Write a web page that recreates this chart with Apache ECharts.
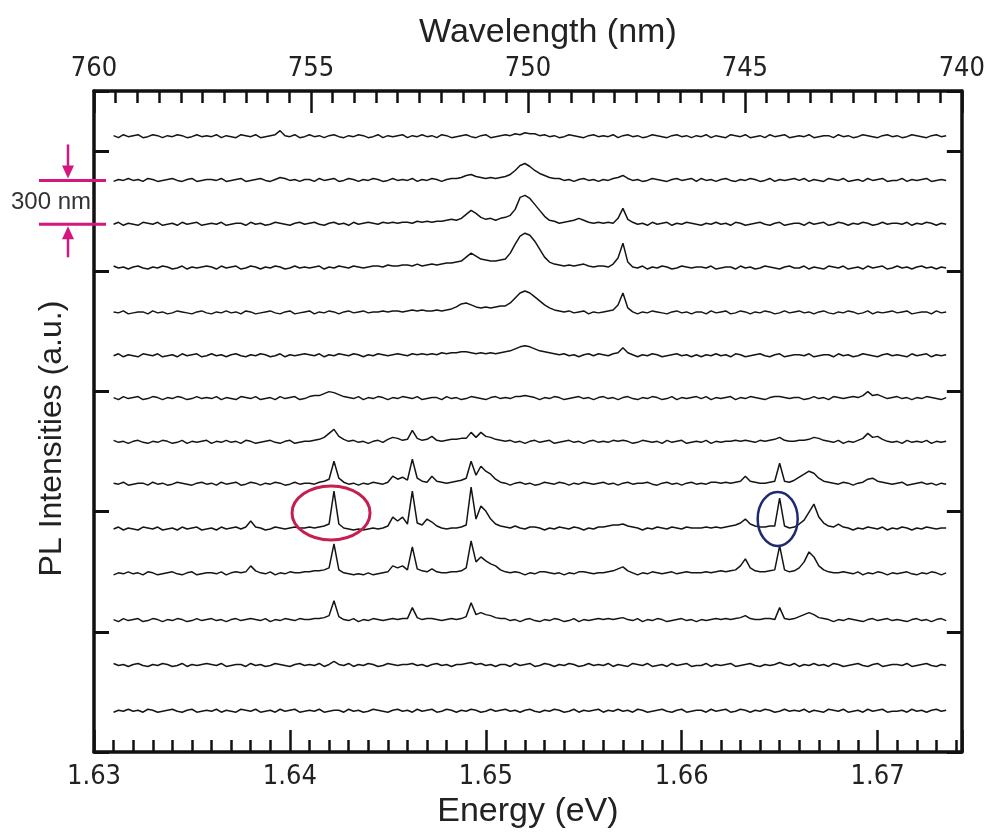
<!DOCTYPE html>
<html>
<head>
<meta charset="utf-8">
<title>PL spectra</title>
<script src="https://cdn.jsdelivr.net/npm/echarts@6/dist/echarts.min.js"></script>
<style>
  html, body { margin: 0; padding: 0; background: #fff; }
  #PLSpectra { width: 988px; height: 834px; }
</style>
</head>
<body>
<div id="PLSpectra"></div>
<script>
// energy grid of every spectrum (eV)
const energyStart = 1.631;
const energyStep = 0.00025;

// tick labels
const energyLabels = [1.63, 1.64, 1.65, 1.66, 1.67];
const wavelengthLabels = [760, 755, 750, 745, 740];

// vertical offset of each spectrum, top to bottom (a.u.)
const offsets = [5.12, 4.756, 4.391, 4.027, 3.654, 3.297, 2.941, 2.577, 2.229, 1.856, 1.483, 1.094, 0.721, 0.340];
const countsPerUnit = 120.7;

// PL counts, one value per grid step
const spec1 = [
  1, -1, 2, 0, 1, 2, -1, 0, 2, 1, -1, 1, 0, 2, 1, -1, 0, 2, 0, 1,
  0, 2, -1, 1, 0, -1, 2, 1, 0, 2, -1, 0, 1, 2, 6, 1, 0, 2, -1, 0,
  2, 0, 1, -1, 1, 2, 0, -1, 1, 0, 2, 1, -1, 0, 2, -1, 1, 0, 1, 2,
  -1, 1, 0, 2, 0, 1, -1, 2, 1, -1, 0, 1, 2, 0, -1, 1, 2, -1, 0, 1,
  2, 1, 3, 2, 4, 3, 3, 1, 2, 0, 1, -1, 0, 2, 1, 0, -1, 1, 2, 0,
  1, 0, 2, -1, 1, 2, 0, 1, -1, 0, 2, 1, 0, -1, 1, 2, 0, 1, -1, 1,
  0, 2, -1, 1, 0, -1, 2, 1, 0, 2, -1, 0, 1, -1, 2, 0, 1, 2, -1, 0,
  1, 0, 2, -1, 0, 1, 1, -1, 2, 0, 1, -1, 0, 2, 1, 0, -1, 1, 2, 0,
  1, -1, 0, 2, 1, 0, -1, 1, 2, 0, 1,
];
const spec2 = [
  -1, 1, 0, 2, 0, 1, -1, 2, 1, -1, 0, 1, 2, 0, -1, 1, 2, -1, 0, 1,
  1, 0, 2, -1, 0, 1, 2, -1, 0, 1, 2, 0, -1, 1, 3, 2, 0, 1, -1, 1,
  1, -1, 2, 0, 1, 2, -1, 0, 2, 1, -1, 1, 0, 2, 1, -1, 0, 2, 0, 1,
  0, 2, -1, 1, 0, 2, 1, -1, 1, 2, 2, 3, 5, 6, 4, 3, 2, 3, 2, 3,
  4, 6, 10, 15, 17, 14, 10, 7, 5, 3, 2, 2, 0, 1, -1, 1, 2, 0, 1, -1,
  1, 0, 2, 3, 5, 2, 0, 1, -1, 0, 2, 1, 0, -1, 1, 2, 0, 1, 2, -1,
  2, 0, 1, -1, 1, 2, 0, -1, 1, 0, 2, 1, -1, 0, 2, -1, 1, 0, 1, 2,
  0, 2, -1, 1, 0, -1, 2, 1, 0, 2, -1, 0, 1, -1, 2, 0, 1, 2, -1, 0,
  0, 2, -1, 1, 0, 1, 2, -1, 0, 1, 0,
];
const spec3 = [
  0, 2, -1, 1, 0, -1, 2, 1, 0, 2, -1, 0, 1, -1, 2, 0, 1, 2, -1, 0,
  1, 0, 2, -1, 0, 1, 1, -1, 2, 0, 1, -1, 0, 2, 1, 0, -1, 1, 2, 0,
  1, 2, 0, -1, 1, 2, 0, 1, -1, 2, 0, 1, 2, 1, 0, 2, 1, 2, 1, 2,
  2, 1, 3, 2, 3, 2, 3, 3, 4, 5, 4, 6, 10, 14, 11, 7, 5, 6, 4, 6,
  7, 9, 15, 27, 29, 26, 20, 14, 8, 4, 3, 1, 2, 3, 4, 6, 4, 2, 1, 2,
  1, 2, 1, 6, 16, 5, 2, 0, 1, -1, 2, 0, 1, 2, -1, 1, 0, 2, 1, 0,
  -1, 1, 0, 2, 0, 1, -1, 2, 1, -1, 0, 1, 2, 0, -1, 1, 2, -1, 0, 1,
  1, -1, 2, 0, 1, 2, -1, 0, 2, 1, -1, 1, 0, 2, 1, -1, 0, 2, 0, 1,
  1, 0, 2, -1, 1, 0, 2, 1, -1, 1, 0,
];
const spec4 = [
  2, 0, 1, -1, 1, 2, 0, -1, 1, 0, 2, 1, -1, 0, 2, -1, 1, 0, 1, 2,
  1, -1, 2, 0, 1, 2, -1, 0, 2, 1, -1, 1, 0, 2, 1, -1, 0, 2, 0, 1,
  0, 1, 2, -1, 1, 0, 2, 1, 0, 2, 1, 0, 1, 2, 2, 1, 3, 2, 2, 3,
  3, 2, 4, 2, 3, 4, 3, 4, 5, 5, 6, 7, 11, 15, 12, 9, 8, 7, 7, 8,
  9, 15, 24, 32, 35, 33, 27, 19, 11, 6, 4, 3, 2, 3, 2, 3, 4, 2, 1, 2,
  2, 1, 4, 10, 25, 6, 1, 0, 2, -1, 1, 0, 2, 1, -1, 0, 2, 1, 0, 1,
  1, 0, 2, -1, 0, 1, 1, -1, 2, 0, 1, -1, 0, 2, 1, 0, -1, 1, 2, 0,
  0, 2, -1, 1, 0, -1, 2, 1, 0, 2, -1, 0, 1, -1, 2, 0, 1, 2, -1, 0,
  2, 0, 1, -1, 1, 2, 0, 1, -1, 1, 0,
];
const spec5 = [
  1, 0, 2, -1, 0, 1, 1, -1, 2, 0, 1, -1, 0, 2, 1, 0, -1, 1, 2, 0,
  -1, 1, 0, 2, 0, 1, -1, 2, 1, -1, 0, 1, 2, 0, -1, 1, 2, -1, 0, 1,
  2, -1, 1, 0, 2, 1, -1, 1, 2, 0, 1, 2, 0, 1, 1, 2, 1, 2, 2, 1,
  2, 3, 2, 3, 2, 2, 3, 2, 3, 4, 6, 9, 10, 8, 6, 5, 6, 5, 6, 7,
  7, 10, 15, 20, 22, 20, 16, 12, 8, 5, 3, 2, 1, 2, 0, 1, 2, -1, 1, 0,
  1, 2, 3, 8, 20, 5, 1, -1, 1, 0, 2, 1, 0, -1, 1, 2, 0, 1, -1, 1,
  1, -1, 2, 0, 1, 2, -1, 0, 2, 1, -1, 1, 0, 2, 1, -1, 0, 2, 0, 1,
  2, 0, 1, -1, 1, 2, 0, -1, 1, 0, 2, 1, -1, 0, 2, -1, 1, 0, 1, 2,
  0, 1, 2, -1, 0, 1, 1, -1, 2, 0, 1,
];
const spec6 = [
  0, 2, -1, 1, 0, -1, 2, 1, 0, 2, -1, 0, 1, -1, 2, 0, 1, 2, -1, 0,
  2, 0, 1, -1, 1, 2, 0, -1, 1, 0, 2, 1, -1, 0, 2, -1, 1, 0, 1, 2,
  1, 0, 2, -1, 1, 0, 2, 1, 0, 2, 1, -1, 1, 0, 2, 1, 0, 1, 2, 1,
  0, 2, 1, 2, 1, 2, 1, 3, 2, 3, 3, 4, 4, 3, 2, 3, 2, 3, 2, 3,
  4, 5, 7, 9, 10, 9, 7, 5, 4, 3, 2, 1, 2, 0, 1, -1, 1, 2, 0, 2,
  1, 0, 2, 3, 8, 3, 1, -1, 1, 0, 2, 1, -1, 0, 1, 2, 0, 1, -1, 1,
  -1, 1, 0, 2, 0, 1, -1, 2, 1, -1, 0, 1, 2, 0, -1, 1, 2, -1, 0, 1,
  1, 0, 2, -1, 0, 1, 1, -1, 2, 0, 1, -1, 0, 2, 1, 0, -1, 1, 2, 0,
  1, 0, -1, 2, 0, 1, 2, -1, 1, 0, 1,
];
const spec7 = [
  1, -1, 2, 0, 1, 2, -1, 0, 2, 1, -1, 1, 0, 2, 1, -1, 0, 2, 0, 1,
  0, 2, -1, 1, 0, -1, 2, 1, 0, 2, -1, 0, 1, -1, 2, 0, 1, 2, -1, 0,
  2, 3, 3, 5, 7, 6, 4, 2, 1, 0, 2, -1, 1, 0, 2, 1, -1, 1, 0, 2,
  1, 0, 2, -1, 0, 1, 1, -1, 2, 0, 1, -1, 0, 2, 1, 0, -1, 1, 2, 0,
  1, 0, 2, 2, 3, 2, 1, -1, 1, 0, 2, 1, -1, 0, 1, 2, 0, 1, -1, 1,
  2, 0, 1, -1, 1, 2, 0, -1, 1, 0, 2, 1, -1, 0, 2, -1, 1, 0, 1, 2,
  0, 2, -1, 1, 0, 1, 2, -1, 1, 0, 2, 1, 0, -1, 1, 2, 2, 1, 0, 1,
  1, -1, 0, 2, 0, 1, -1, 2, 1, 0, 1, 2, 1, 3, 7, 3, 4, 2, 0, 1,
  2, 0, 1, -1, 1, 0, 2, 1, 0, -1, 1,
];
const spec8 = [
  2, 0, 1, -1, 1, 2, 0, -1, 1, 0, 2, 1, -1, 0, 2, -1, 1, 0, 1, 2,
  -1, 1, 0, 2, 0, 1, -1, 2, 1, -1, 0, 1, 2, 0, -1, 1, 2, -1, 0, 1,
  1, 2, 3, 5, 9, 13, 6, 3, 1, 2, 0, 1, -1, 1, 2, 0, 3, 5, 4, 2,
  3, 12, 4, 2, 3, 6, 2, 1, 2, 3, 3, 4, 4, 10, 5, 10, 6, 5, 3, 2,
  1, 2, 0, 1, -1, 1, 2, 0, 1, 2, -1, 0, 1, 2, 0, 1, -1, 1, 2, 0,
  1, 0, 2, 1, 2, 1, -1, 0, 2, 1, 0, 1, -1, 2, 0, 1, 2, -1, 0, 1,
  0, 2, -1, 1, 0, 1, 1, 2, 1, 2, 1, 0, 2, 1, 2, 3, 5, 2, 1, 1,
  2, 2, 3, 5, 4, 2, 1, 0, 2, -1, 1, 0, 2, 4, 9, 5, 6, 3, 1, 0,
  1, -1, 2, 0, 1, 0, 2, -1, 1, 0, 1,
];
const spec9 = [
  1, 0, 2, -1, 0, 1, 1, -1, 2, 0, 1, -1, 0, 2, 1, 0, -1, 1, 2, 0,
  1, -1, 2, 0, 1, 2, -1, 0, 2, 1, -1, 1, 0, 2, 1, -1, 0, 2, 0, 1,
  1, 0, 2, 3, 5, 23, 6, 2, 0, 1, -1, 1, 0, 2, 1, 0, 2, 8, 5, 7,
  4, 25, 6, 3, 2, 8, 3, 2, 1, 2, 3, 4, 6, 23, 9, 18, 13, 10, 5, 2,
  1, -1, 1, 2, 0, 1, -1, 0, 2, 1, 0, 2, 1, -1, 1, 0, 2, 1, 0, 1,
  2, 0, 1, -1, 1, 2, 0, 1, 1, 2, 0, -1, 1, 2, 0, 1, -1, 1, 2, 0,
  1, 0, 2, 2, 1, 2, 1, 2, 3, 8, 3, 2, 1, 1, 2, 3, 21, 3, 2, 4,
  7, 10, 13, 11, 6, 3, 2, 1, 0, 2, 1, -1, 1, 2, 5, 6, 3, 2, 1, 0,
  1, 2, -1, 0, 1, 2, 0, 1, -1, 1, 0,
];
const spec10 = [
  0, 2, -1, 1, 0, -1, 2, 1, 0, 2, -1, 0, 1, -1, 2, 0, 1, 2, -1, 0,
  1, -1, 2, 0, 1, 2, 0, 2, 8, 2, 1, -1, 0, 2, 1, 0, 1, 2, 1, 1,
  2, 1, 2, 3, 5, 38, 5, 1, 0, -1, 0, -1, 0, 1, 0, 1, 3, 12, 8, 12,
  5, 38, 6, 4, 10, 7, 3, 1, 0, 1, 1, 2, 4, 42, 10, 23, 18, 10, 5, 3,
  2, 1, 3, 1, 0, 2, 2, 1, -1, 1, 0, 2, 1, 0, 2, 1, -1, 1, 0, 2,
  2, 3, 4, 4, 5, 3, 2, 1, -1, 1, 0, 2, 1, 0, 2, 1, 0, 2, 1, 1,
  1, 2, 1, 2, 1, 2, 3, 4, 6, 10, 5, 3, 2, 2, 3, 3, 31, 3, 1, 2,
  5, 9, 17, 25, 12, 6, 3, 2, 5, 2, 1, -1, 1, 0, 2, 1, 0, 2, -1, 1,
  0, 2, 1, -1, 1, 0, 2, 1, 0, 1, 1,
];
const spec11 = [
  -1, 1, 0, 2, 0, 1, -1, 2, 1, -1, 0, 1, 2, 0, -1, 1, 2, -1, 0, 1,
  1, 0, 2, -1, 1, 2, 1, 2, 8, 3, 1, 0, 2, -1, 1, 0, 2, 1, 1, 2,
  2, 3, 3, 4, 6, 30, 4, 1, 0, -1, 0, -1, 1, -1, 0, 1, 2, 8, 6, 8,
  4, 27, 5, 3, 2, 5, 2, 1, 1, 2, 2, 3, 6, 33, 12, 17, 13, 10, 8, 4,
  2, 1, 2, 1, -1, 1, 0, 2, 2, 1, 0, 1, -1, 1, 0, 2, 2, 1, 0, 1,
  1, 2, 3, 5, 7, 3, 1, -1, 1, 0, 2, 1, 0, 1, 2, 0, 1, 2, 1, 1,
  1, 2, 1, 2, 3, 2, 3, 4, 8, 15, 6, 3, 2, 2, 3, 4, 28, 4, 2, 3,
  6, 12, 22, 17, 8, 4, 2, 1, 1, 2, 1, 0, 2, -1, 1, 0, 2, 1, -1, 1,
  0, 1, 2, 0, -1, 1, 0, 2, 1, -1, 1,
];
const spec12 = [
  1, -1, 2, 0, 1, 2, -1, 0, 2, 1, -1, 1, 0, 2, 1, -1, 0, 2, 0, 1,
  2, 0, 1, -1, 1, 2, 0, 1, 2, 1, 0, 2, -1, 1, 0, 2, 1, 0, 2, 1,
  1, 2, 2, 3, 5, 20, 4, 1, 0, 2, -1, 1, 0, 2, 1, 0, 1, 2, 1, 2,
  2, 13, 3, 1, 2, 2, 1, 0, 1, 2, 1, 2, 4, 18, 6, 8, 6, 5, 3, 2,
  2, 0, 1, -1, 1, 2, 0, -1, 1, 0, 2, 1, -1, 0, 2, -1, 1, 0, 1, 2,
  1, 2, 1, 2, 3, 1, 0, 2, -1, 1, 0, 2, 1, -1, 0, 1, 2, 0, 1, -1,
  1, 0, 1, 2, 1, 2, 1, 2, 3, 5, 2, 1, 1, 2, 2, 1, 13, 2, 1, 2,
  4, 6, 8, 6, 3, 2, 1, -1, 1, 0, 2, 1, 0, -1, 1, 2, 0, 1, 2, 0,
  1, 0, -1, 1, 2, 0, 1, -1, 1, 2, 0,
];
const spec13 = [
  2, 0, 1, -1, 1, 2, 0, -1, 1, 0, 2, 1, -1, 0, 2, -1, 1, 0, 1, 2,
  1, 0, 2, -1, 0, 1, 1, -1, 2, 0, 1, -1, 0, 2, 1, 0, -1, 1, 2, 0,
  1, 0, 2, -1, 1, 4, 1, 0, 2, -1, 1, 0, 2, 1, -1, 0, 2, 1, 0, 1,
  1, 2, 0, 1, -1, 1, 2, 0, 1, -1, 1, 1, 2, 3, 1, 2, 0, 1, -1, 1,
  1, -1, 2, 0, 1, 2, -1, 0, 2, 1, -1, 1, 0, 2, 1, -1, 0, 2, 0, 1,
  0, 2, -1, 1, 0, -1, 2, 1, 0, 2, -1, 0, 1, -1, 2, 0, 1, 2, -1, 0,
  0, 2, -1, 1, 0, 1, 2, -1, 0, 1, 2, 0, -1, 1, 0, 1, 3, 1, 0, 2,
  -1, 1, 0, 2, 0, 1, -1, 2, 1, -1, 0, 1, 2, 0, -1, 1, 2, -1, 0, 1,
  1, 0, 2, -1, 0, 1, 2, 0, -1, 1, 0,
];
const spec14 = [
  -1, 1, 0, 2, 0, 1, -1, 2, 1, -1, 0, 1, 2, 0, -1, 1, 2, -1, 0, 1,
  0, 2, -1, 1, 0, -1, 2, 1, 0, 2, -1, 0, 1, -1, 2, 0, 1, 2, -1, 0,
  1, 0, 2, -1, 0, 1, 1, -1, 2, 0, 1, -1, 0, 2, 1, 0, -1, 1, 2, 0,
  1, -1, 2, 0, 1, 2, -1, 0, 2, 1, -1, 1, 0, 2, 1, -1, 0, 2, 0, 1,
  2, 0, 1, -1, 1, 2, 0, -1, 1, 0, 2, 1, -1, 0, 2, -1, 1, 0, 1, 2,
  -1, 1, 0, 2, 0, 1, -1, 2, 1, -1, 0, 1, 2, 0, -1, 1, 2, -1, 0, 1,
  1, -1, 2, 0, 1, 2, -1, 0, 2, 1, -1, 1, 0, 2, 1, -1, 0, 2, 0, 1,
  0, 2, -1, 1, 0, -1, 2, 1, 0, 2, -1, 0, 1, -1, 2, 0, 1, 2, -1, 0,
  0, 1, -1, 2, 0, 1, -1, 1, 2, 0, 1,
];
const spectra = [spec1, spec2, spec3, spec4, spec5, spec6, spec7, spec8, spec9, spec10, spec11, spec12, spec13, spec14];

const tickFont = "'Liberation Sans Narrow', 'Arial Narrow', 'DejaVu Sans Condensed', sans-serif";
const nameFont = "'Liberation Sans', Arial, sans-serif";
const frameColor = '#111';

const myChart = echarts.init(document.getElementById('PLSpectra'));

const isLabel = (list, v) => list.some((t) => Math.abs(t - v) < 1e-6);

const series = spectra.map((spec, n) => ({
  type: 'line',
  xAxisIndex: 0,
  yAxisIndex: 0,
  symbol: 'none',
  silent: true,
  lineStyle: { color: '#141414', width: 1.5 },
  data: spec.map((v, i) => [energyStart + i * energyStep, offsets[n] + v / countsPerUnit]),
}));

const option = {
  animation: false,
  backgroundColor: '#fff',
  grid: { left: 94, right: 25, top: 91, bottom: 79 },
  xAxis: [
    {
      // energy, minor steps of 1 meV
      type: 'value',
      position: 'bottom',
      min: 1.63,
      max: 1.6743,
      interval: 0.001,
      axisLine: { show: true, onZero: false, lineStyle: { color: frameColor, width: 3.5 } },
      axisTick: { show: true, inside: true, length: 12, lineStyle: { color: frameColor, width: 2.5 } },
      axisLabel: {
        margin: 11,
        color: '#222',
        fontSize: 27,
        fontFamily: tickFont,
        formatter: (v) => (isLabel(energyLabels, v) ? v.toFixed(2) : ''),
      },
      splitLine: { show: false },
      name: 'Energy (eV)',
      nameLocation: 'middle',
      nameGap: 35,
      nameTextStyle: { color: '#222', fontSize: 34, fontFamily: nameFont },
    },
    {
      // energy, major ticks
      type: 'value',
      position: 'bottom',
      min: 1.63,
      max: 1.6743,
      interval: 0.01,
      axisLine: { show: false, onZero: false },
      axisTick: { show: true, inside: true, length: 22, lineStyle: { color: frameColor, width: 2.5 } },
      axisLabel: { show: false },
      splitLine: { show: false },
    },
    {
      type: 'value',
      position: 'top',
      inverse: true,
      min: 740,
      max: 760,
      interval: 5,
      axisLine: { show: true, onZero: false, lineStyle: { color: frameColor, width: 3.5 } },
      axisTick: { show: true, inside: true, length: 22, lineStyle: { color: frameColor, width: 2.5 } },
      minorTick: { show: true, splitNumber: 10, length: 12, lineStyle: { color: frameColor, width: 2.5 } },
      axisLabel: {
        margin: 9,
        color: '#222',
        fontSize: 27,
        fontFamily: tickFont,
        formatter: (v) => (isLabel(wavelengthLabels, v) ? String(v) : ''),
      },
      splitLine: { show: false },
      name: 'Wavelength (nm)',
      nameLocation: 'middle',
      nameGap: 38,
      nameTextStyle: { color: '#222', fontSize: 34, fontFamily: nameFont, padding: [0, 0, 0, 40] },
    },
  ],
  yAxis: [
    {
      type: 'value',
      position: 'left',
      min: 0,
      max: 5.5,
      interval: 1,
      axisLine: { show: true, onZero: false, lineStyle: { color: frameColor, width: 3.5 } },
      axisTick: { show: true, inside: true, length: 15, lineStyle: { color: frameColor, width: 3 } },
      axisLabel: { show: false },
      splitLine: { show: false },
      name: 'PL Intensities (a.u.)',
      nameLocation: 'middle',
      nameGap: 26,
      nameTextStyle: { color: '#222', fontSize: 32, fontFamily: nameFont, padding: [0, 34, 0, 0] },
    },
    {
      type: 'value',
      position: 'right',
      min: 0,
      max: 5.5,
      interval: 1,
      axisLine: { show: true, onZero: false, lineStyle: { color: frameColor, width: 3.5 } },
      axisTick: { show: true, inside: true, length: 15, lineStyle: { color: frameColor, width: 3 } },
      axisLabel: { show: false },
      splitLine: { show: false },
    },
  ],
  series: series,
};
myChart.setOption(option);

// circled peaks and the 300 nm scale bar
const toPx = (e, y) => myChart.convertToPixel({ xAxisIndex: 0, yAxisIndex: 0 }, [e, y]);
const redC = toPx(1.6421, 1.99);
const blueC = toPx(1.6649, 1.94);
const barTop = toPx(1.63, offsets[1])[1];
const barBottom = toPx(1.63, offsets[2])[1];
const barColor = '#d4177f';
const barX = 68;

myChart.setOption({
  graphic: [
    {
      type: 'ellipse',
      z: 100,
      shape: { cx: redC[0], cy: redC[1], rx: 39, ry: 27 },
      style: { fill: 'none', stroke: '#c41f4f', lineWidth: 3 },
    },
    {
      type: 'ellipse',
      z: 100,
      shape: { cx: blueC[0], cy: blueC[1], rx: 20, ry: 27 },
      style: { fill: 'none', stroke: '#1f2a6e', lineWidth: 2.5 },
    },
    {
      type: 'line',
      z: 100,
      shape: { x1: 39, y1: barTop, x2: 106, y2: barTop },
      style: { stroke: barColor, lineWidth: 3 },
    },
    {
      type: 'line',
      z: 100,
      shape: { x1: 39, y1: barBottom, x2: 106, y2: barBottom },
      style: { stroke: barColor, lineWidth: 3 },
    },
    {
      type: 'line',
      z: 100,
      shape: { x1: barX, y1: barTop - 36, x2: barX, y2: barTop - 12 },
      style: { stroke: barColor, lineWidth: 2.5 },
    },
    {
      type: 'polygon',
      z: 100,
      shape: { points: [[barX - 6, barTop - 15], [barX + 6, barTop - 15], [barX, barTop - 2]] },
      style: { fill: barColor },
    },
    {
      type: 'line',
      z: 100,
      shape: { x1: barX, y1: barBottom + 12, x2: barX, y2: barBottom + 33 },
      style: { stroke: barColor, lineWidth: 2.5 },
    },
    {
      type: 'polygon',
      z: 100,
      shape: { points: [[barX - 6, barBottom + 15], [barX + 6, barBottom + 15], [barX, barBottom + 2]] },
      style: { fill: barColor },
    },
    {
      type: 'text',
      z: 100,
      x: 51,
      y: (barTop + barBottom) / 2,
      style: {
        text: '300 nm',
        fill: '#333',
        fontSize: 24,
        fontFamily: nameFont,
        align: 'center',
        verticalAlign: 'middle',
      },
    },
  ],
});
</script>
</body>
</html>
